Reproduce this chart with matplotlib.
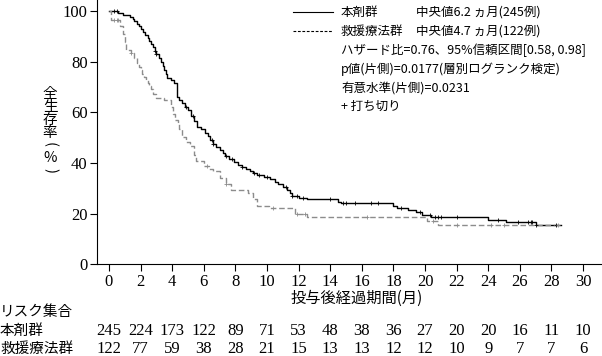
import matplotlib
matplotlib.use('Agg')
import matplotlib.pyplot as plt
import numpy as np
from matplotlib.lines import Line2D

# ===== DATA =====
# step knots (months, survival %)
drug_t = [0, 0.6, 0.9, 1.3, 1.5, 1.6, 1.8, 1.9, 2.0, 2.15, 2.3, 2.45, 2.55, 2.65, 2.8,
          2.9, 3.0, 3.15, 3.3, 3.4, 3.5, 3.6, 3.7, 3.9, 4.1, 4.3, 4.45, 4.6, 4.8, 5.0,
          5.2, 5.35, 5.6, 5.85, 6.1, 6.25, 6.4, 6.6, 6.8, 7.0, 7.2, 7.35, 7.6, 7.9,
          8.15, 8.4, 8.65, 8.9, 9.1, 9.35, 9.8, 10.2, 10.5, 10.7, 11.0, 11.25, 11.45,
          11.6, 12.0, 12.5, 14.5, 14.7, 18.0, 18.2, 18.9, 19.4, 19.8, 20.4, 24.0,
          25.1, 27.0, 28.6]
drug_s = [100, 99.2, 98.4, 97.6, 96.8, 96.0, 95.0, 94.0, 92.8, 91.6, 90.5, 89.4, 88.2,
          86.9, 85.6, 84.3, 83.0, 81.4, 79.8, 78.3, 76.8, 75.2, 73.6, 72.6, 71.6, 66.0,
          64.8, 63.5, 62.2, 61.0, 58.5, 56.5, 54.3, 53.2, 52.0, 50.5, 49.0, 47.5, 46.2,
          45.0, 43.8, 42.6, 41.5, 40.5, 39.3, 38.2, 37.5, 36.8, 36.1, 35.4, 34.4, 33.5,
          32.5, 31.5, 30.5, 29.5, 28.2, 26.8, 26.0, 25.6, 24.4, 24.0, 23.2, 22.4, 21.3,
          20.5, 19.3, 18.7, 17.5, 16.7, 15.4, 15.4]
drug_cens = [0.3, 0.5, 2.9, 3.0, 4.9, 5.3, 6.5, 6.6, 7.4, 7.8, 8.4, 9.2, 9.5, 10.0,
             11.2, 11.6, 11.9, 12.3, 14.0, 14.8, 15.0, 15.6, 16.6, 17.0, 18.5, 19.7,
             20.3, 20.6, 20.8, 21.0, 22.0, 24.6, 25.9, 26.5, 26.7, 26.8, 27.0, 28.3]

rescue_t = [0, 0.15, 0.7, 0.9, 1.0, 1.07, 1.4, 1.6, 1.8, 1.9, 2.0, 2.1, 2.2, 2.35, 2.45,
            2.55, 2.65, 2.8, 2.95, 3.5, 3.9, 4.05, 4.2, 4.35, 4.45, 4.65, 4.9, 5.15,
            5.35, 5.5, 6.0, 6.3, 6.6, 7.05, 7.4, 7.7, 8.8, 9.1, 9.35, 10.1, 11.8, 12.5,
            20.1, 20.8, 28.6]
rescue_s = [100, 96.5, 94.0, 91.0, 87.8, 84.6, 83.5, 81.5, 79.5, 78.0, 76.5, 75.2, 74.0,
            72.8, 71.5, 70.2, 69.0, 67.4, 65.7, 65.0, 62.2, 59.5, 57.0, 55.2, 53.5, 50.4,
            48.4, 46.5, 43.0, 40.6, 38.6, 37.6, 36.7, 34.2, 31.8, 29.5, 28.3, 25.6,
            23.0, 22.4, 19.7, 18.5, 16.9, 15.4, 15.4]
rescue_cens = [0.3, 0.5, 0.6, 1.4, 6.2, 7.4, 10.4, 11.9, 12.4, 16.3, 20.5, 22.0,
               24.2, 25.0, 28.4]

risk_times = list(range(0, 31, 2))
risk_drug = [245, 224, 173, 122, 89, 71, 53, 48, 38, 36, 27, 20, 20, 16, 11, 10]
risk_rescue = [122, 77, 59, 38, 28, 21, 15, 13, 13, 12, 12, 10, 9, 7, 7, 6]

legend_rows = [
    ('本剤群', '中央値6.2 ヵ月(245例)'),
    ('救援療法群', '中央値4.7 ヵ月(122例)'),
]
note_rows = [
    'ハザード比=0.76、95%信頼区間[0.58, 0.98]',
    'p値(片側)=0.0177(層別ログランク検定)',
    '有意水準(片側)=0.0231',
    '+ 打ち切り',
]
ylabel_chars = ['全', '生', '存', '率', '(', '%', ')']
# ================

JP = ['Noto Sans CJK JP', 'DejaVu Sans']
NUM = ['Liberation Serif', 'DejaVu Serif']
DRUG_COLOR = 'black'
RESCUE_COLOR = '#8c8c8c'

W, H = 602, 356
fig = plt.figure(figsize=(W / 100, H / 100), dpi=100)
ax = fig.add_axes([97.3 / W, 1 - 264.3 / H, 1 - 97.3 / W, 264.3 / H])


def step_value(ts, ss, x):
    idx = np.searchsorted(ts, x, side='right') - 1
    return np.asarray(ss)[idx]


ax.plot(drug_t, drug_s, drawstyle='steps-post', color=DRUG_COLOR, lw=1.0)
ax.plot(rescue_t, rescue_s, drawstyle='steps-post', color=RESCUE_COLOR, lw=1.0,
        dashes=(4, 2))
ax.plot(drug_cens, step_value(drug_t, drug_s, drug_cens), '+', color=DRUG_COLOR,
        ms=3.5, mew=0.6)
ax.plot(rescue_cens, step_value(rescue_t, rescue_s, rescue_cens), '+',
        color=RESCUE_COLOR, ms=3.5, mew=0.6)

ax.set_xlim(-0.74, 31.2)
ax.set_ylim(0, 104.3)
ax.set_xticks(risk_times)
ax.set_yticks([0, 20, 40, 60, 80, 100])
for sp in ['top', 'right']:
    ax.spines[sp].set_visible(False)
ax.tick_params(direction='out', length=5, width=0.8, labelsize=12, pad=2)
for lab in ax.get_xticklabels() + ax.get_yticklabels():
    lab.set_family(NUM)

# y label, glyphs stacked vertically (brackets turned to vertical form)
ylab_pos = [94, 107, 120, 133, 145, 158, 171]
for ch, yp in zip(ylabel_chars, ylab_pos):
    rot = -90 if ch in '()' else 0
    fig.text(50 / W, 1 - yp / H, ch, family=JP, fontsize=10.5, ha='center',
             va='center', rotation=rot)

# x label
fig.text(357 / W, 1 - 298 / H, '投与後経過期間(月)', family=JP, fontsize=11,
         ha='center', va='center')

# legend block
for i, (name, med) in enumerate(legend_rows):
    y = 1 - (12 + 19 * i) / H
    ls = '-' if i == 0 else (0, (2.5, 1.5))
    fig.add_artist(Line2D([293 / W, 333 / W], [y, y], color='black', lw=0.8,
                          linestyle=ls, transform=fig.transFigure))
    fig.text(341 / W, y, name, family=JP, fontsize=9, ha='left', va='center')
    fig.text(416 / W, y, med, family=JP, fontsize=9, ha='left', va='center')
for i, txt in enumerate(note_rows):
    y = 1 - (50 + 18.8 * i) / H
    fig.text(341 / W, y, txt, family=JP, fontsize=9, ha='left', va='center')

# risk table
fig.text(0, 1 - 316 / H, 'リスク集合', family=JP, fontsize=10.5, ha='left',
         va='baseline')
for base_y, name, vals in [(335, '本剤群', risk_drug), (353, '救援療法群', risk_rescue)]:
    fig.text(0, 1 - base_y / H, name, family=JP, fontsize=10.5, ha='left',
             va='baseline')
    for t, v in zip(risk_times, vals):
        xf = fig.transFigure.inverted().transform(ax.transData.transform((t, 0)))[0]
        fig.text(xf, 1 - base_y / H, str(v), family=NUM, fontsize=12,
                 ha='center', va='baseline')

fig.savefig('out.png', dpi=100)
